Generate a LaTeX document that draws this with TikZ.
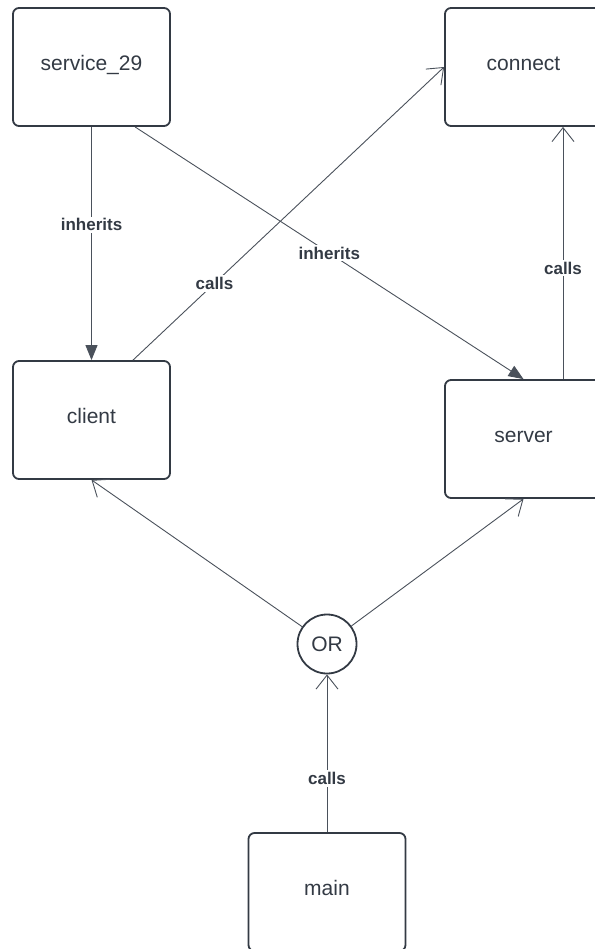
\documentclass[tikz,border=0pt]{standalone}
\usepackage{fontspec}
\setmainfont{Liberation Sans}
\usetikzlibrary{arrows.meta}
\definecolor{ink}{HTML}{333A44}
\definecolor{wire}{HTML}{4A515B}
\tikzset{
  box/.style={draw=ink, line width=1.8pt, rounded corners=6pt, fill=white,
    minimum width=157pt, minimum height=118pt, inner sep=0pt,
    text height=13pt, text depth=6pt,
    text=ink, font=\fontsize{21}{24}\selectfont},
  gate/.style={draw=ink, line width=1.8pt, circle, minimum size=59pt, inner sep=0pt,
    text=ink, font=\fontsize{21}{24}\selectfont},
  wire/.style={draw=wire, line width=0.9pt},
  inh/.style={wire, -{Triangle[length=15pt,width=12pt]}},
  call/.style={wire, -{Straight Barb[length=14pt,width=22pt,line width=0.9pt]}},
  lbl/.style={fill=white, text=ink, inner sep=2pt, font=\bfseries\fontsize{17}{20}\selectfont},
}
\begin{document}
\begin{tikzpicture}[x=1pt,y=-1pt]
\useasboundingbox (0,0) rectangle (594,949);

\node[box] (s29) at (91.5,67)  {service\_29};
\node[box] (cn)  at (523.5,67) {connect};
\node[box] (cl)  at (91.5,420) {client};
\node[box] (sv)  at (523.5,439) {server};
\node[gate] (or) at (327,644) {OR};
\node[box] (mn)  at (327,892) {main};

\draw[inh] (s29.south) -- node[lbl, pos=0.42] {inherits} (cl.north);
\draw[inh] ([xshift=43.5pt]s29.south) -- node[lbl, pos=0.5] {inherits} (sv.north);
\draw[call] ([xshift=41.5pt]cl.north) -- node[lbl, pos=0.262] {calls} (cn.west);
\draw[call] ([xshift=39.5pt]sv.north) -- node[lbl, pos=0.44] {calls} ([xshift=39.5pt]cn.south);
\draw[call] (or) -- (cl.south);
\draw[call] (or) -- (sv.south);
\draw[call] (mn.north) -- node[lbl, pos=0.34] {calls} (or.south);
\end{tikzpicture}
\end{document}
